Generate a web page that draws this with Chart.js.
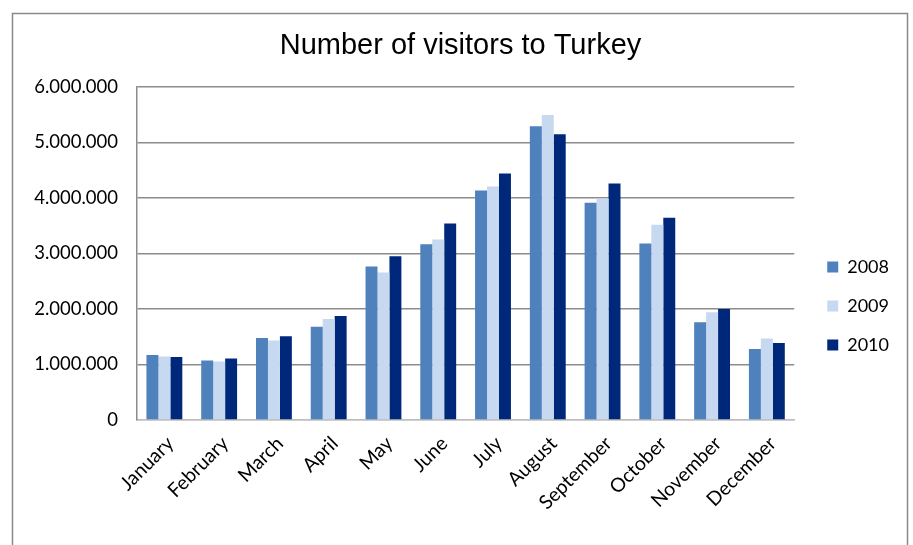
<!DOCTYPE html>
<html>
<head>
<meta charset="utf-8">
<script src="https://cdn.jsdelivr.net/npm/chart.js@4"></script>
<style>
  body { margin: 0; background: #fff; }
  canvas { display: block; }
</style>
</head>
<body>
<canvas id="myChart" width="913" height="545"></canvas>
<script>
const monthNames = ['January', 'February', 'March', 'April', 'May', 'June', 'July', 'August', 'September', 'October', 'November', 'December'];

const visitors_2008 = [1173000, 1070000, 1479000, 1678000, 2766000, 3168000, 4137000, 5291000, 3915000, 3181000, 1761000, 1281000];
const visitors_2009 = [1142000, 1052000, 1431000, 1822000, 2657000, 3253000, 4209000, 5495000, 3992000, 3518000, 1941000, 1467000];
const visitors_2010 = [1136000, 1106000, 1509000, 1876000, 2952000, 3541000, 4443000, 5147000, 4263000, 3644000, 2002000, 1389000];

const yMax = 6000000;
const yStep = 1000000;

// số có dấu chấm ngăn cách hàng nghìn
const formatDots = v => String(v).replace(/\B(?=(\d{3})+(?!\d))/g, '.');

// khung viền quanh biểu đồ
const framePlugin = {
    id: 'frame',
    beforeDraw(chart) {
        const ctx = chart.ctx;
        ctx.save();
        ctx.fillStyle = '#ffffff';
        ctx.fillRect(0, 0, chart.width, chart.height);
        ctx.strokeStyle = '#8a8a8a';
        ctx.lineWidth = 1.5;
        ctx.strokeRect(12.5, 13.5, 895, 600);
        ctx.restore();
    }
};

const ctx = document.getElementById('myChart').getContext('2d');
const myChart = new Chart(ctx, {
    type: 'bar',
    data: {
        labels: monthNames,
        datasets: [
            { label: '2008', data: visitors_2008, backgroundColor: '#4F81BD' },
            { label: '2009', data: visitors_2009, backgroundColor: '#C6D9F1' },
            { label: '2010', data: visitors_2010, backgroundColor: '#00287A' }
        ]
    },
    options: {
        responsive: false,
        animation: false,
        layout: { padding: { top: 29, bottom: -38, left: 22, right: 14 } },
        datasets: {
            bar: { categoryPercentage: 0.655, barPercentage: 1, borderWidth: 0 }
        },
        scales: {
            x: {
                grid: { display: false, drawTicks: false },
                border: { display: true, color: '#bdbdbd', width: 1.5 },
                ticks: {
                    autoSkip: false,
                    minRotation: 45,
                    maxRotation: 45,
                    padding: 12,
                    labelOffset: 6,
                    color: '#000',
                    font: { family: 'Lato', size: 19.5 }
                },
                afterFit: scale => { scale.height = 163; }
            },
            y: {
                min: 0,
                max: yMax,
                grid: {
                    drawTicks: false,
                    color: ctx => ctx.tick && ctx.tick.value === 0 ? '#bdbdbd' : '#8c8c8c',
                    lineWidth: 1.5
                },
                border: { display: true, color: '#8c8c8c', width: 1.5 },
                ticks: {
                    stepSize: yStep,
                    padding: 19,
                    color: '#000',
                    font: { family: 'Lato', size: 18.5 },
                    callback: v => formatDots(v)
                },
                afterFit: scale => { scale.width = 115; }
            },
            spacer: {
                type: 'linear',
                position: 'right',
                grid: { display: false, drawTicks: false },
                border: { display: false },
                ticks: { display: false },
                afterFit: scale => { scale.width = 12; }
            }
        },
        plugins: {
            title: {
                display: true,
                text: 'Number of visitors to Turkey',
                color: '#000',
                font: { family: 'Liberation Sans', size: 29, weight: 'normal' },
                padding: { top: 0, bottom: 23.2 }
            },
            legend: {
                position: 'right',
                labels: {
                    boxWidth: 11,
                    boxHeight: 11,
                    padding: 21,
                    color: '#000',
                    font: { family: 'Lato', size: 18 }
                }
            },
            tooltip: { enabled: false }
        }
    },
    plugins: [framePlugin]
});
</script>
</body>
</html>
